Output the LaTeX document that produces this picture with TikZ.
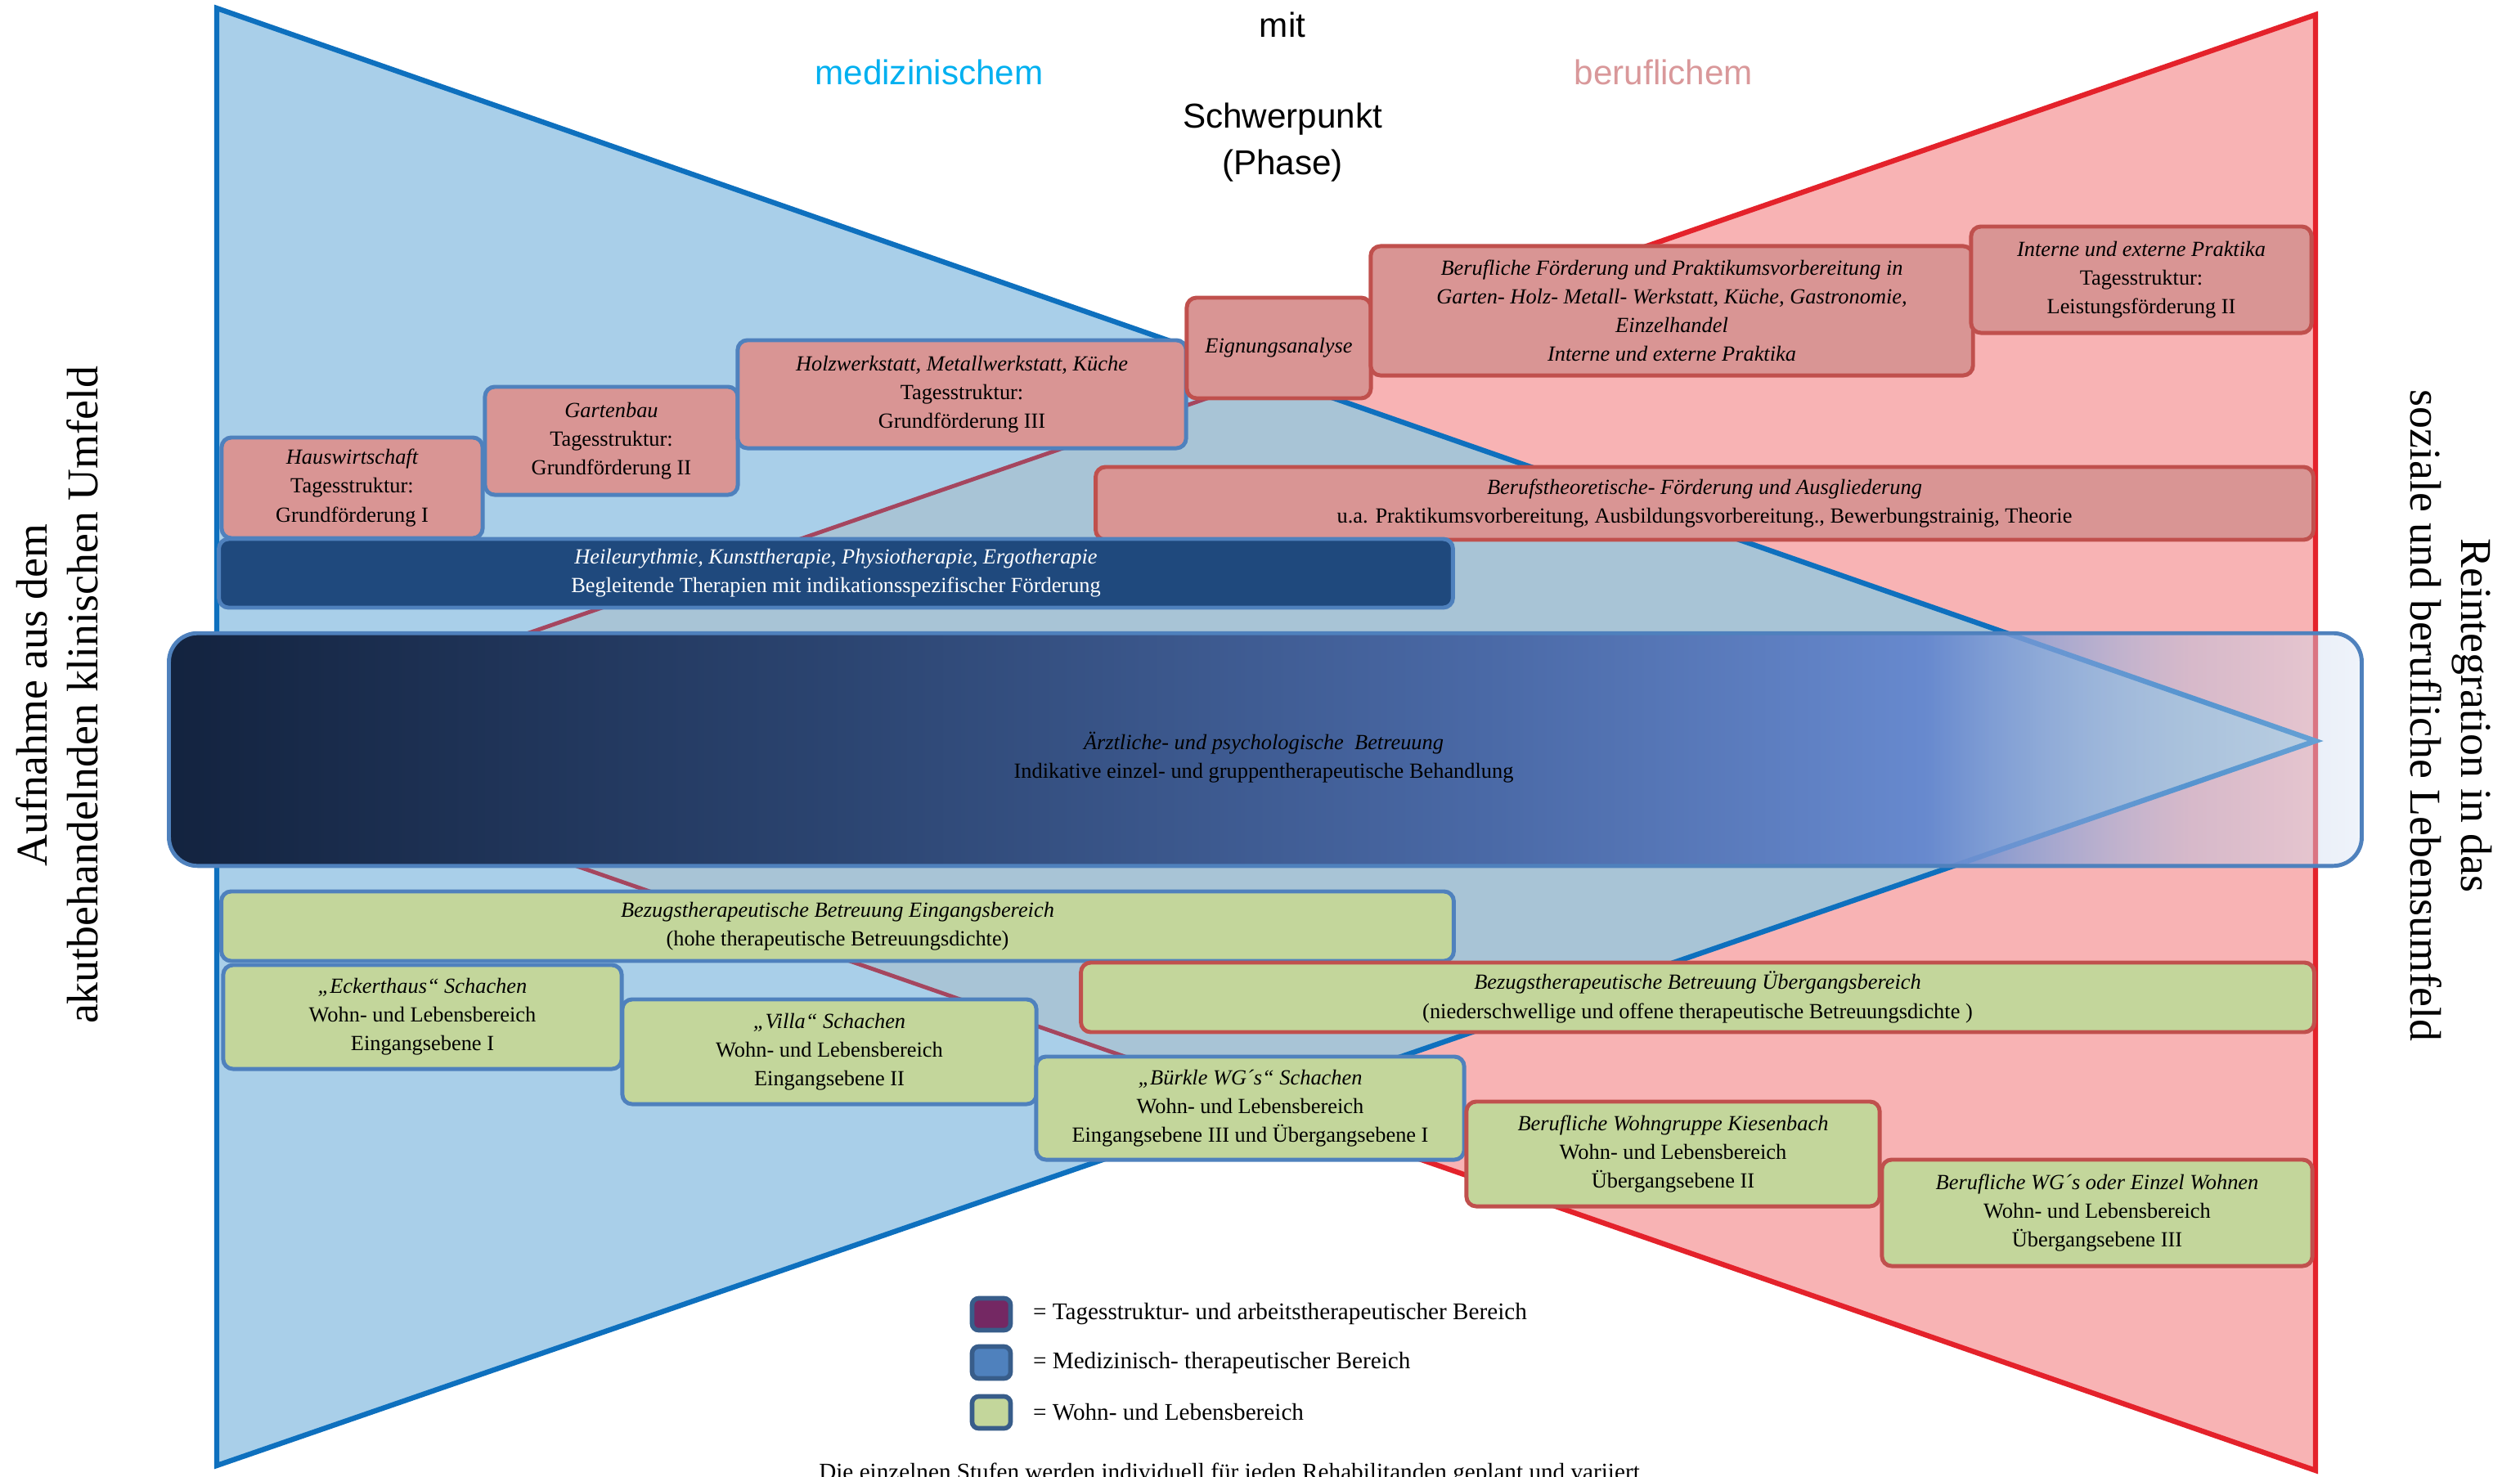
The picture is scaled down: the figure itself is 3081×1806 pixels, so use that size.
\documentclass[tikz,border=0pt]{standalone}
\usepackage{fontspec}
\setmainfont{Liberation Serif}
\newfontfamily\headsans{Liberation Sans}
\usetikzlibrary{fadings}

\definecolor{triblue}{HTML}{A9CFE9}
\definecolor{blueline}{HTML}{0E70BE}
\definecolor{trired}{HTML}{F8B3B4}
\definecolor{redline}{HTML}{E4222B}
\definecolor{overlapfill}{HTML}{A8C4D6}
\definecolor{maroonline}{HTML}{A5465F}
\definecolor{tagpink}{HTML}{D99594}
\definecolor{bordred}{HTML}{C0504D}
\definecolor{bordblue}{HTML}{4F81BD}
\definecolor{mednavy}{HTML}{1F497D}
\definecolor{wohngreen}{HTML}{C3D69B}
\definecolor{tagpurple}{HTML}{742863}
\definecolor{keyborder}{HTML}{385D8A}
\definecolor{medcyan}{HTML}{00B0F0}
\definecolor{berufpink}{HTML}{D9989A}
\definecolor{navyA}{HTML}{13233F}
\definecolor{navyB}{HTML}{2B4470}
\definecolor{navyC}{HTML}{4A69A6}
\definecolor{navyD}{HTML}{6789CE}
\definecolor{navyE}{HTML}{DCE5F4}

\newcommand{\boxfont}{\fontsize{7.5pt}{10pt}\selectfont}
\newcommand{\keyfont}{\fontsize{8.3pt}{10pt}\selectfont}
\newcommand{\sidefont}{\fontsize{15.3pt}{17.6pt}\selectfont}
\newcommand{\headfont}{\headsans\fontsize{12pt}{14pt}\selectfont}

\pgfdeclarehorizontalshading{careshade}{100bp}{color(0bp)=(navyA); color(25bp)=(navyA); color(40bp)=(navyB); color(55bp)=(navyC); color(65bp)=(navyD); color(75bp)=(navyE); color(100bp)=(navyE)}
\pgfdeclarehorizontalshading{carefadeshade}{100bp}{color(0bp)=(pgftransparent!0); color(65bp)=(pgftransparent!0); color(71bp)=(pgftransparent!55); color(100bp)=(pgftransparent!55)}
\pgfdeclarefading{carefade}{\pgfuseshading{carefadeshade}}

\begin{document}
\begin{tikzpicture}[x=0.01cm, y=-0.01cm]
    \tikzstyle{stage}=[rounded corners=0.12cm, line width=1.4pt, align=center, font=\boxfont, inner sep=2pt]
    \tikzstyle{tag box}=[stage, fill=tagpink, draw=bordred]
    \tikzstyle{wohn box}=[stage, fill=wohngreen, draw=bordblue]
    \tikzstyle{med box}=[stage, fill=mednavy, draw=bordblue, text=white]
    \tikzstyle{key}=[rounded corners=0.08cm, line width=1.6pt, draw=keyborder, minimum width=0.47cm, minimum height=0.39cm, inner sep=0pt]
    \tikzstyle{head}=[font=\headfont, anchor=base, inner sep=0pt]

    \useasboundingbox (0,0) rectangle (3081,1806);

    % the two phases
    \coordinate (bt) at (265,10);
    \coordinate (bb) at (265,1792);
    \coordinate (ba) at (2831,906);
    \coordinate (rt) at (2831,18);
    \coordinate (rb) at (2831,1798);
    \coordinate (ra) at (265,906);

    \fill[trired] (rt) -- (rb) -- (ra) -- cycle;
    \draw[redline, line width=1.8pt] (rt) -- (rb) -- (ra) -- cycle;
    \fill[triblue] (bt) -- (ba) -- (bb) -- cycle;
    \begin{scope}
        \clip (bt) -- (ba) -- (bb) -- cycle;
        \fill[overlapfill] (rt) -- (rb) -- (ra) -- cycle;
        \draw[maroonline, line width=1.4pt] (rt) -- (ra) -- (rb);
    \end{scope}
    \draw[blueline, line width=1.8pt] (bt) -- (ba) -- (bb) -- cycle;

    % Tagesstruktur
    \node[tag box, draw=bordblue, minimum width=3.19cm, minimum height=1.23cm] (hw) at (430.5,596.5)
        {{\itshape Hauswirtschaft}\\Tagesstruktur:\\Grundförderung I};
    \node[tag box, draw=bordblue, minimum width=3.09cm, minimum height=1.32cm] (gb) at (747.5,539)
        {{\itshape Gartenbau}\\Tagesstruktur:\\Grundförderung II};
    \node[tag box, draw=bordblue, minimum width=5.48cm, minimum height=1.32cm] (hmk) at (1176,482)
        {{\itshape Holzwerkstatt, Metallwerkstatt, Küche}\\Tagesstruktur:\\Grundförderung III};
    \node[tag box, minimum width=2.25cm, minimum height=1.23cm] (eig) at (1563.5,425.5)
        {\itshape Eignungsanalyse};
    \node[tag box, minimum width=7.36cm, minimum height=1.58cm] (bf) at (2044,380)
        {\itshape Berufliche Förderung und Praktikumsvorbereitung in\\\itshape Garten- Holz- Metall- Werkstatt, Küche, Gastronomie,\\\itshape Einzelhandel\\\itshape Interne und externe Praktika};
    \node[tag box, minimum width=4.16cm, minimum height=1.30cm] (iep) at (2618,342)
        {{\itshape Interne und externe Praktika}\\Tagesstruktur:\\Leistungsförderung II};
    \node[tag box, minimum width=14.88cm, minimum height=0.89cm] (bt) at (2084,615.5)
        {{\itshape Berufstheoretische- Förderung und Ausgliederung}\\u.a. Praktikumsvorbereitung, Ausbildungsvorbereitung., Bewerbungstrainig, Theorie};

    % Medizinisch
    \node[med box, minimum width=15.08cm, minimum height=0.84cm] (heil) at (1022,701)
        {{\itshape Heileurythmie, Kunsttherapie, Physiotherapie, Ergotherapie}\\Begleitende Therapien mit indikationsspezifischer Förderung};
    \node[rounded corners=0.35cm, shading=careshade, path fading=carefade, fit fading=true,
          minimum width=26.78cm, minimum height=2.83cm] (care) at (1547,916.5) {};
    \draw[bordblue, line width=1.4pt, rounded corners=0.35cm] (care.south west) rectangle (care.north east);
    \node[font=\boxfont, align=center] (caretxt) at (1545,926)
        {{\itshape Ärztliche- und psychologische\ \ Betreuung}\\Indikative einzel- und gruppentherapeutische Behandlung};

    % Wohn- und Lebensbereich
    \node[wohn box, minimum width=15.06cm, minimum height=0.85cm] (bzE) at (1024,1132.5)
        {{\itshape Bezugstherapeutische Betreuung Eingangsbereich}\\(hohe therapeutische Betreuungsdichte)};
    \node[wohn box, minimum width=4.87cm, minimum height=1.27cm] (eck) at (516.5,1243.5)
        {{\itshape „Eckerthaus“ Schachen}\\Wohn- und Lebensbereich\\Eingangsebene I};
    \node[wohn box, minimum width=5.06cm, minimum height=1.28cm] (villa) at (1014,1286)
        {{\itshape „Villa“ Schachen}\\Wohn- und Lebensbereich\\Eingangsebene II};
    \node[wohn box, minimum width=5.23cm, minimum height=1.26cm] (buerkle) at (1528.5,1355)
        {{\itshape „Bürkle WG´s“ Schachen}\\Wohn- und Lebensbereich\\Eingangsebene III und Übergangsebene I};
    \node[wohn box, draw=bordred, minimum width=15.07cm, minimum height=0.85cm] (bzU) at (2075.5,1219.5)
        {{\itshape Bezugstherapeutische Betreuung Übergangsbereich}\\(niederschwellige und offene therapeutische Betreuungsdichte )};
    \node[wohn box, draw=bordred, minimum width=5.05cm, minimum height=1.28cm] (kies) at (2045.5,1411)
        {{\itshape Berufliche Wohngruppe Kiesenbach}\\Wohn- und Lebensbereich\\Übergangsebene II};
    \node[wohn box, draw=bordred, minimum width=5.26cm, minimum height=1.30cm] (wg) at (2564,1483)
        {{\itshape Berufliche WG´s oder Einzel Wohnen}\\Wohn- und Lebensbereich\\Übergangsebene III};

    % headings
    \node[head] (mit) at (1568,46) {mit};
    \node[head, text=medcyan] (med) at (1136,104) {medizinischem};
    \node[head, text=berufpink] (beruf) at (2034,104) {beruflichem};
    \node[head] (schwer) at (1568,157) {Schwerpunkt};
    \node[head] (phase) at (1568,214) {(Phase)};

    \node[rotate=90, font=\sidefont, align=center] (aufnahme) at (70,850)
        {Aufnahme aus dem\\akutbehandelnden klinischen Umfeld};
    \node[rotate=-90, font=\sidefont, align=center] (reint) at (2997,875)
        {Reintegration in das\\soziale und berufliche Lebensumfeld};

    % legend
    \foreach \y/\fillc/\txt [count=\i] in {1607/tagpurple/Tagesstruktur- und arbeitstherapeutischer Bereich,
                                          1666/bordblue/Medizinisch- therapeutischer Bereich,
                                          1727/wohngreen/Wohn- und Lebensbereich}
    {
        \node[key, fill=\fillc] (key-\i) at (1212,\y) {};
        \node[anchor=west, font=\keyfont, inner sep=0pt, xshift=0.24cm] (keytxt-\i) at (key-\i.east) {= \txt};
    }
    \node[anchor=base, font=\keyfont, inner sep=0pt] (note) at (1503,1809)
        {Die einzelnen Stufen werden individuell für jeden Rehabilitanden geplant und variiert};
\end{tikzpicture}
\end{document}
